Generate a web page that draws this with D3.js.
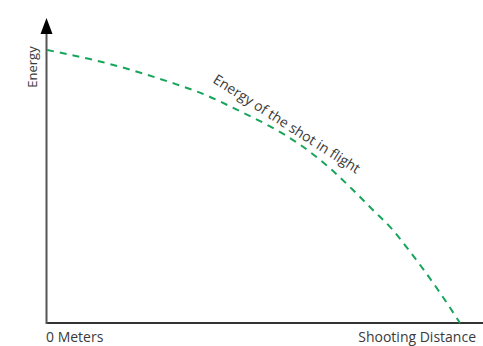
<!DOCTYPE html>
<html><head><meta charset="utf-8">
<script src="https://cdn.jsdelivr.net/npm/d3@7"></script>
<style>body{margin:0;background:#fff}svg{display:block}text{font-family:"Open Sans",sans-serif;fill:#3a3a3a}</style>
</head><body><svg id="c" width="483" height="346"></svg>
<script>
const distance = [0, 13.6, 31.0, 37.0, 46.7, 54.0, 61.3, 69.0, 74.1, 78.9, 83.5, 87.2, 95.2, 100];
const energy   = [100, 95.5, 87.6, 84.4, 77.6, 72.0, 65.3, 56.0, 48.7, 41.4, 34.5, 27.5, 11.0, 0];
const xLabels = ["0 Meters", "Shooting Distance"];
const yLabel = "Energy";
const curveLabel = "Energy of the shot in flight";

const svg = d3.select("#c");
const x = d3.scaleLinear().domain([0, 100]).range([47, 460]);
const y = d3.scaleLinear().domain([0, 100]).range([323, 50]);
const pts = distance.map((d, i) => [d, energy[i]]);

// axes
svg.append("line").attr("x1", x(0)-0.5).attr("x2", 483).attr("y1", y(0)).attr("y2", y(0))
  .attr("stroke", "#333").attr("stroke-width", 2);
svg.append("line").attr("x1", x(0)-0.5).attr("x2", x(0)-0.5).attr("y1", y(0)+1).attr("y2", 30)
  .attr("stroke", "#555").attr("stroke-width", 2);
svg.append("path").attr("d", `M${x(0)-0.5},18 L${x(0)-6.5},34 L${x(0)+5.5},34 Z`).attr("fill", "#000");

// curve
const line = d3.line().x(d => x(d[0])).y(d => y(d[1])).curve(d3.curveMonotoneX);
svg.append("path").datum(pts).attr("d", line).attr("fill", "none")
  .attr("stroke", "#16a55a").attr("stroke-width", 2).attr("stroke-dasharray", "7,6");

// labels
svg.append("text").attr("transform", `translate(37,67) rotate(-90)`).attr("text-anchor", "middle")
  .attr("font-size", 13).text(yLabel);
svg.append("text").attr("x", 46).attr("y", 342).attr("font-size", 14).text(xLabels[0]);
svg.append("text").attr("x", 476).attr("y", 342).attr("text-anchor", "end").attr("font-size", 14).text(xLabels[1]);
svg.append("text").attr("transform", `translate(212,82) rotate(32.5)`).attr("font-size", 14).text(curveLabel);
</script></body></html>
